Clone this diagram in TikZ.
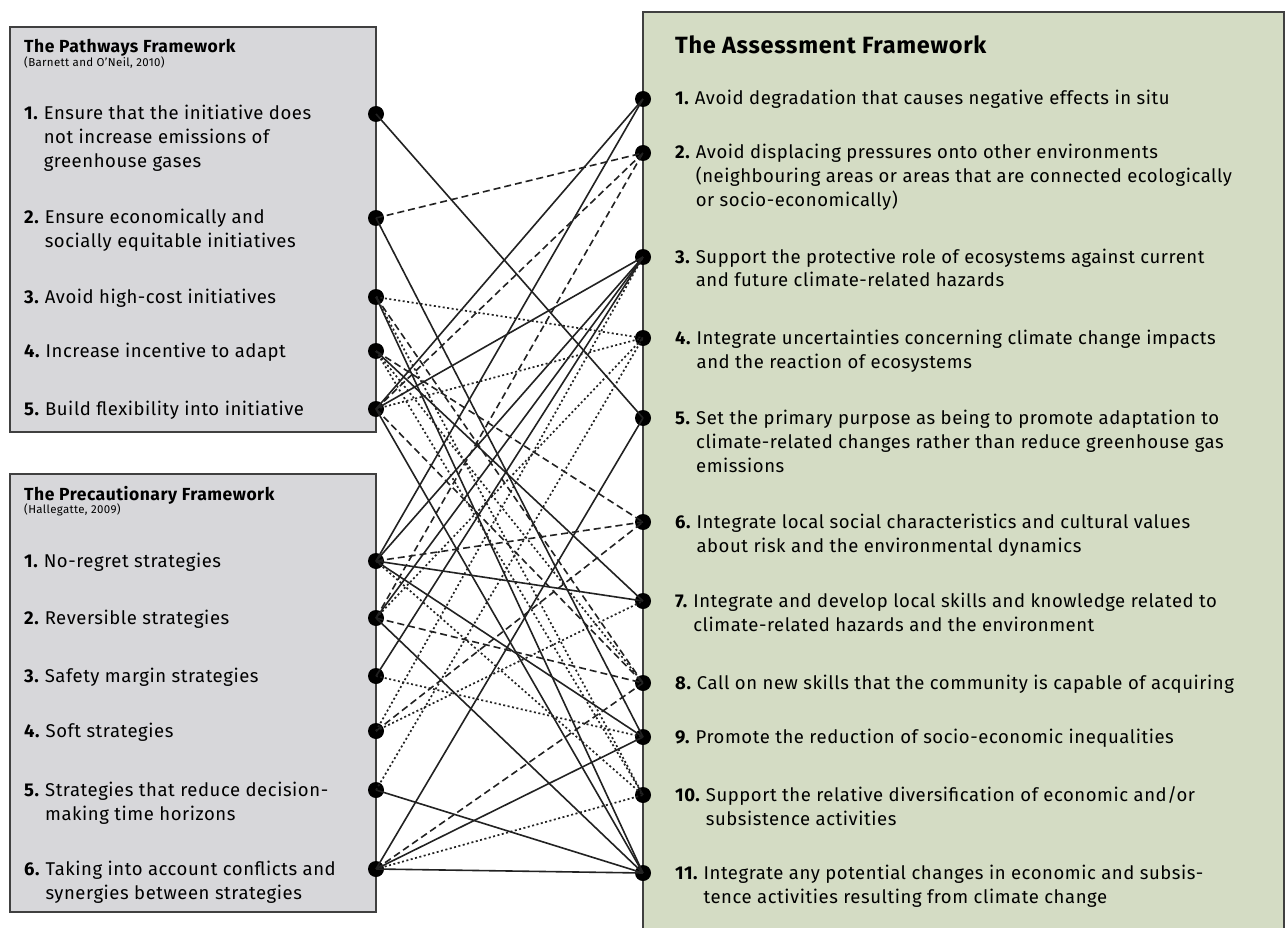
\documentclass[tikz,border=0pt]{standalone}
\usepackage{fontspec}
\setmainfont{Fira Sans}[LetterSpace=3]
\newcommand{\itemfont}{\fontsize{18.5}{24}\selectfont}
\newcommand{\itm}[2]{\textbf{#1}~\begin{tabular}[t]{@{}l@{}}#2\end{tabular}}
\definecolor{boxgray}{HTML}{D7D7DA}
\definecolor{boxgreen}{HTML}{D4DCC4}
\definecolor{linkgray}{HTML}{222222}
\begin{document}
\begin{tikzpicture}[x=1pt, y=-1pt,
    box/.style={draw=black!75, line width=1.2pt},
    dot/.style={circle, fill=black, inner sep=0pt, minimum size=16pt},
    item/.style={anchor=base west, inner sep=0pt, font=\itemfont},
    solidlink/.style={line width=1.6pt, draw=linkgray},
    dashlink/.style={line width=1.6pt, draw=linkgray, dash pattern=on 7pt off 4pt},
    dotlink/.style={line width=1.7pt, draw=linkgray, dash pattern=on 2pt off 2.5pt}]
    \useasboundingbox (0, 0) rectangle (1288, 928);
    %\draw[lightgray] (0, 0) grid[step=100] (1288, 928);
    \fill[white] (0, 0) rectangle (1288, 928);
    \draw[box, fill=boxgray] (10, 27) rectangle (376, 432);
    \draw[box, fill=boxgray] (10, 474) rectangle (376, 912);
    \draw[box, fill=boxgreen] (643, 12) rectangle (1284, 945);

    % The Pathways Framework
    \node[anchor=base west, inner sep=0pt, font=\bfseries\fontsize{17.5}{20}\selectfont] (pathtitle) at (24, 53) {The Pathways Framework};
    \node[anchor=base west, inner sep=0pt, font=\fontsize{11.5}{12}\selectfont] (pathsrc) at (24, 67) {(Barnett and O'Neil, 2010)};
    \node[item] (ptext1) at (24, 120) {\itm{1.}{Ensure that the initiative does\\not increase emissions of\\greenhouse gases}};
    \node[item] (ptext2) at (24, 224) {\itm{2.}{Ensure economically and\\socially equitable initiatives}};
    \node[item] (ptext3) at (24, 303) {\itm{3.}{Avoid high-cost initiatives}};
    \node[item] (ptext4) at (24, 357) {\itm{4.}{Increase incentive to adapt}};
    \node[item] (ptext5) at (24, 415) {\itm{5.}{Build flexibility into initiative}};

    % The Precautionary Framework
    \node[anchor=base west, inner sep=0pt, font=\bfseries\fontsize{17.5}{20}\selectfont] (prectitle) at (24, 500) {The Precautionary Framework};
    \node[anchor=base west, inner sep=0pt, font=\fontsize{11.5}{12}\selectfont] (precsrc) at (24, 513) {(Hallegatte, 2009)};
    \node[item] (qtext1) at (24, 567) {\itm{1.}{No-regret strategies}};
    \node[item] (qtext2) at (24, 624) {\itm{2.}{Reversible strategies}};
    \node[item] (qtext3) at (24, 682) {\itm{3.}{Safety margin strategies}};
    \node[item] (qtext4) at (24, 737) {\itm{4.}{Soft strategies}};
    \node[item] (qtext5) at (24, 796) {\itm{5.}{Strategies that reduce decision-\\making time horizons}};
    \node[item] (qtext6) at (24, 875) {\itm{6.}{Taking into account conflicts and\\synergies between strategies}};

    % The Assessment Framework
    \node[anchor=base west, inner sep=0pt, font=\bfseries\fontsize{23.5}{26}\selectfont] (asstitle) at (675, 54) {The Assessment Framework};
    \node[item] (atext1) at (675, 105) {\itm{1.}{Avoid degradation that causes negative effects in situ}};
    \node[item] (atext2) at (675, 159) {\itm{2.}{Avoid displacing pressures onto other environments\\(neighbouring areas or areas that are connected ecologically\\or socio-economically)}};
    \node[item] (atext3) at (675, 263) {\itm{3.}{Support the protective role of ecosystems against current\\and future climate-related hazards}};
    \node[item] (atext4) at (675, 344) {\itm{4.}{Integrate uncertainties concerning climate change impacts\\and the reaction of ecosystems}};
    \node[item] (atext5) at (675, 424) {\itm{5.}{Set the primary purpose as being to promote adaptation to\\climate-related changes rather than reduce greenhouse gas\\emissions}};
    \node[item] (atext6) at (675, 528) {\itm{6.}{Integrate local social characteristics and cultural values\\about risk and the environmental dynamics}};
    \node[item] (atext7) at (675, 607) {\itm{7.}{Integrate and develop local skills and knowledge related to\\climate-related hazards and the environment}};
    \node[item] (atext8) at (675, 689) {\itm{8.}{Call on new skills that the community is capable of acquiring}};
    \node[item] (atext9) at (675, 743) {\itm{9.}{Promote the reduction of socio-economic inequalities}};
    \node[item] (atext10) at (675, 801) {\itm{10.}{Support the relative diversification of economic and/or\\subsistence activities}};
    \node[item] (atext11) at (675, 879) {\itm{11.}{Integrate any potential changes in economic and subsis-\\tence activities resulting from climate change}};

    % dots
    \node[dot] (p1) at (376, 114) {};
    \node[dot] (p2) at (376, 218) {};
    \node[dot] (p3) at (376, 297) {};
    \node[dot] (p4) at (376, 351) {};
    \node[dot] (p5) at (376, 409) {};
    \node[dot] (q1) at (376, 561) {};
    \node[dot] (q2) at (376, 618) {};
    \node[dot] (q3) at (376, 676) {};
    \node[dot] (q4) at (376, 731) {};
    \node[dot] (q5) at (376, 790) {};
    \node[dot] (q6) at (376, 869) {};
    \node[dot] (a1) at (643, 99) {};
    \node[dot] (a2) at (643, 153) {};
    \node[dot] (a3) at (643, 257) {};
    \node[dot] (a4) at (643, 338) {};
    \node[dot] (a5) at (643, 418) {};
    \node[dot] (a6) at (643, 522) {};
    \node[dot] (a7) at (643, 601) {};
    \node[dot] (a8) at (643, 683) {};
    \node[dot] (a9) at (643, 737) {};
    \node[dot] (a10) at (643, 795) {};
    \node[dot] (a11) at (643, 873) {};

    % links
    \foreach \from/\to in {p1/a5, p2/a9, p3/a11, p4/a7, p5/a1, p5/a3, p5/a11, q1/a1, q1/a3, q1/a7, q1/a9,
        q2/a3, q2/a11, q3/a3, q5/a11, q6/a5, q6/a9, q6/a11}
        \draw[solidlink] (\from.center) -- (\to.center);
    \foreach \from/\to in {p2/a2, p5/a2, q2/a2, p3/a8, p5/a8, p4/a6, q1/a6, q4/a6, q2/a8, q6/a8}
        \draw[dashlink] (\from.center) -- (\to.center);
    \foreach \from/\to in {p3/a4, p5/a4, q2/a4, q5/a4, q4/a3, q4/a7, q3/a9, q1/a10, q6/a10, p3/a10, p4/a10, p4/a8}
        \draw[dotlink] (\from.center) -- (\to.center);
\end{tikzpicture}
\end{document}
